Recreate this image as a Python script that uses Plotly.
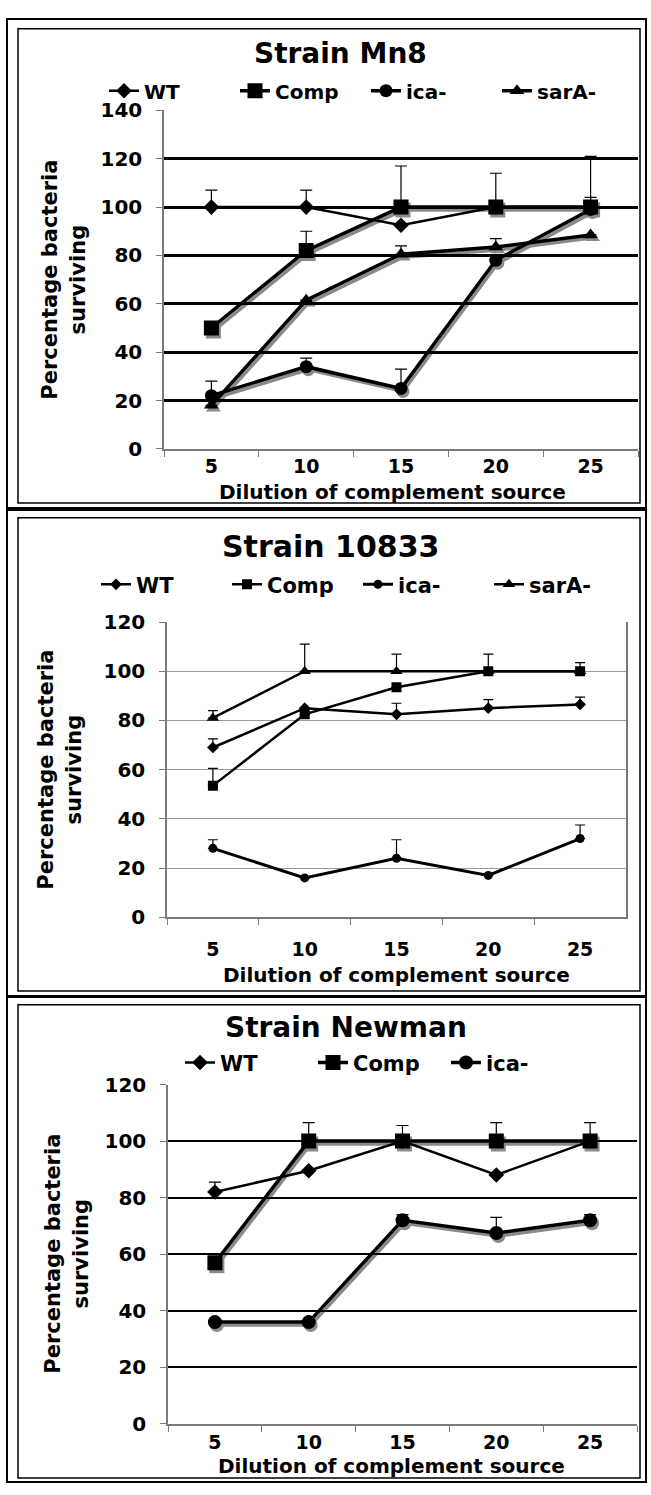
import plotly.graph_objects as go

W, H = 651, 1495
FONT = "DejaVu Sans"

# ---------------- data ----------------
dilution = ["5", "10", "15", "20", "25"]

# Strain Mn8
mn8_wt = [100, 100, 92.5, 100, 100]
mn8_wt_err = [7, 7, None, None, None]
mn8_comp = [50, 82, 100, 100, 100]
mn8_comp_err = [None, 8, 17, 14, 21]
mn8_ica = [22, 34, 25, 78, 99]
mn8_ica_err = [6, 3.5, 8, None, 5]
mn8_sara = [18, 61.5, 80.5, 83.5, 88.5]
mn8_sara_err = [None, None, 3.5, 3.5, None]

# Strain 10833
s10833_wt = [69, 85, 82.5, 85, 86.5]
s10833_wt_err = [3.5, None, 4.5, 3.5, 3]
s10833_comp = [53.5, 82.5, 93.5, 100, 100]
s10833_comp_err = [7, None, None, 7, 3.5]
s10833_ica = [28, 16, 24, 17, 32]
s10833_ica_err = [3.5, None, 7.5, None, 5.5]
s10833_sara = [81, 100, 100, 100, 100]
s10833_sara_err = [3, 11, 7, None, None]

# Strain Newman
newman_wt = [82, 89.5, 100, 88, 100]
newman_wt_err = [3.5, None, None, None, None]
newman_comp = [57, 100, 100, 100, 100]
newman_comp_err = [None, 6.5, 5.5, 6.5, 6.5]
newman_ica = [36, 36, 72, 67.5, 72]
newman_ica_err = [None, None, 2, 5.5, 2]

series_names = ["WT", "Comp", "ica-", "sarA-"]
y_ticks_140 = [0, 20, 40, 60, 80, 100, 120, 140]
y_ticks_120 = [0, 20, 40, 60, 80, 100, 120]


def fx(p):
    return p / W


def fy(p):
    return 1 - p / H


fig = go.Figure()

SYMS = {"WT": "diamond", "Comp": "square", "ica-": "circle", "sarA-": "triangle-up"}


def add_series(name, vals, errs, ax, legend, msize, lwidth, shadow_ax=None, capw=6):
    if shadow_ax is not None:
        fig.add_trace(go.Scatter(
            x=dilution, y=vals, mode="lines+markers", showlegend=False,
            line=dict(color="#8a8a8a", width=lwidth),
            marker=dict(symbol=SYMS[name], size=msize, color="#8a8a8a"),
            xaxis="x" + shadow_ax, yaxis="y" + shadow_ax, hoverinfo="skip"))
    fig.add_trace(go.Scatter(
        x=dilution, y=vals, name=name, mode="lines+markers", legend=legend,
        line=dict(color="black", width=lwidth),
        marker=dict(symbol=SYMS[name], size=msize, color="black"),
        error_y=dict(type="data", symmetric=False, array=errs,
                     arrayminus=[None] * len(vals), color="black",
                     thickness=1.2, width=capw),
        xaxis="x" + ax, yaxis="y" + ax))


# shadow axes ids: "" (panel1), "2" (panel3); main: "3","4","5"
# Panel 1 (Mn8)
add_series("WT", mn8_wt, mn8_wt_err, "3", "legend", 12, 2.5)
add_series("Comp", mn8_comp, mn8_comp_err, "3", "legend", 15, 3.5, "")
add_series("ica-", mn8_ica, mn8_ica_err, "3", "legend", 13, 3.5, "")
add_series("sarA-", mn8_sara, mn8_sara_err, "3", "legend", 13, 3.5, "")
# Panel 2 (10833)
add_series("WT", s10833_wt, s10833_wt_err, "4", "legend2", 9, 2.5, capw=5)
add_series("Comp", s10833_comp, s10833_comp_err, "4", "legend2", 10, 2.5, capw=5)
add_series("ica-", s10833_ica, s10833_ica_err, "4", "legend2", 9, 3, capw=5)
add_series("sarA-", s10833_sara, s10833_sara_err, "4", "legend2", 11, 2.5, capw=5)
# Panel 3 (Newman)
add_series("WT", newman_wt, newman_wt_err, "5", "legend3", 12, 2.5)
add_series("Comp", newman_comp, newman_comp_err, "5", "legend3", 15, 3.5, "2")
add_series("ica-", newman_ica, newman_ica_err, "5", "legend3", 14, 3.5, "2")

xtickfont = dict(family=FONT, size=19, color="black", weight="bold")
ytickfont = dict(family=FONT, size=20, color="black", weight="bold")


def xaxis_main(x0, x1, y_anchor, standoff):
    return dict(domain=[fx(x0), fx(x1)], anchor=y_anchor, type="category",
                range=[-0.5, 4.5], showgrid=False, zeroline=False,
                showline=True, linecolor="#7a7a7a", linewidth=1.5,
                ticks="outside", ticklen=6, tickcolor="#7a7a7a",
                tickson="boundaries", tickfont=xtickfont,
                ticklabelstandoff=standoff)


def yaxis_main(y0, y1, x_anchor, ymax, ticks, gridcolor, gridwidth, mirror=False):
    return dict(domain=[fy(y1), fy(y0)], anchor=x_anchor, range=[0, ymax],
                tickvals=ticks, showgrid=True, gridcolor=gridcolor,
                gridwidth=gridwidth, zeroline=False, showline=True,
                linecolor="#7a7a7a", linewidth=1.5, ticks="outside",
                ticklen=6, tickcolor="#7a7a7a", tickfont=ytickfont,
                ticklabelstandoff=10, mirror=mirror)


def shadow_axes(x0, x1, y0, y1, x_anchor, y_anchor, ymax, dx=2, dy=3):
    xa = dict(domain=[fx(x0 + dx), fx(x1 + dx)], anchor=y_anchor, type="category",
              range=[-0.5, 4.5], visible=False)
    ya = dict(domain=[fy(y1 + dy), fy(y0 + dy)], anchor=x_anchor,
              range=[0, ymax], visible=False)
    return xa, ya


sx1, sy1 = shadow_axes(164, 638, 100, 444, "x", "y", 140)
sx3, sy3 = shadow_axes(168, 637, 1090, 1435, "x2", "y2", 120)

fig.update_layout(
    width=W, height=H, margin=dict(l=0, r=0, t=0, b=0),
    paper_bgcolor="white", plot_bgcolor="rgba(0,0,0,0)",
    font=dict(family=FONT, color="black"),
    xaxis=sx1, yaxis=sy1, xaxis2=sx3, yaxis2=sy3,
    xaxis3=xaxis_main(164, 638, "y3", 0),
    yaxis3=yaxis_main(100, 444, "x3", 140, y_ticks_140, "black", 2.5),
    xaxis4=xaxis_main(167, 626, "y4", 14),
    yaxis4=yaxis_main(620, 920, "x4", 120, y_ticks_120, "#9a9a9a", 1, mirror=True),
    xaxis5=xaxis_main(168, 637, "y5", 0),
    yaxis5=yaxis_main(1090, 1435, "x5", 120, y_ticks_120, "black", 1.8),
    showlegend=True,
)

legend_common = dict(orientation="h", yanchor="middle", xanchor="left",
                     bgcolor="rgba(0,0,0,0)", itemwidth=30, tracegroupgap=0,
                     itemclick=False, itemdoubleclick=False,
                     entrywidthmode="pixels")
fig.update_layout(
    legend=dict(**legend_common, x=fx(104), y=fy(80), entrywidth=86,
                font=dict(family=FONT, size=20, color="black", weight="bold")),
    legend2=dict(**legend_common, x=fx(96), y=fy(582), entrywidth=86,
                 font=dict(family=FONT, size=21, color="black", weight="bold")),
    legend3=dict(**legend_common, x=fx(180), y=fy(1068), entrywidth=88,
                 font=dict(family=FONT, size=21, color="black", weight="bold")),
)

annotations = []


def ann(text, x, y, size, angle=0):
    annotations.append(dict(text=text, x=fx(x), y=fy(y), xref="paper", yref="paper",
                            showarrow=False, xanchor="center", yanchor="middle",
                            textangle=angle,
                            font=dict(family=FONT, size=size, color="black", weight="bold")))


ann("Strain Mn8", 340, 42, 28)
ann("Strain 10833", 330, 543, 30)
ann("Strain Newman", 346, 1032, 28)
ann("Dilution of complement source", 392, 488, 20)
ann("Dilution of complement source", 396, 979, 20)
ann("Dilution of complement source", 391, 1478, 20)
ann("Percentage bacteria<br>surviving", 64, 272, 21, -90)
ann("Percentage bacteria<br>surviving", 60, 770, 21, -90)
ann("Percentage bacteria<br>surviving", 67, 1262, 21, -90)
fig.update_layout(annotations=annotations)

# panel frames (double border)
shapes = []


def rect(x0, y0, x1, y1, w):
    shapes.append(dict(type="rect", xref="paper", yref="paper",
                       x0=fx(x0), x1=fx(x1), y0=fy(y1), y1=fy(y0),
                       line=dict(color="black", width=w), fillcolor="rgba(0,0,0,0)",
                       layer="above"))


rect(7, 7, 646, 504, 2)
rect(18, 17, 640, 499, 1.5)
rect(7, 506, 646, 1000, 2)
rect(18, 514, 640, 995, 1.5)
rect(7, 1001, 646, 1494, 2)
rect(18, 1009, 640, 1490, 1.5)
fig.update_layout(shapes=shapes)

fig.write_html("out.html")
